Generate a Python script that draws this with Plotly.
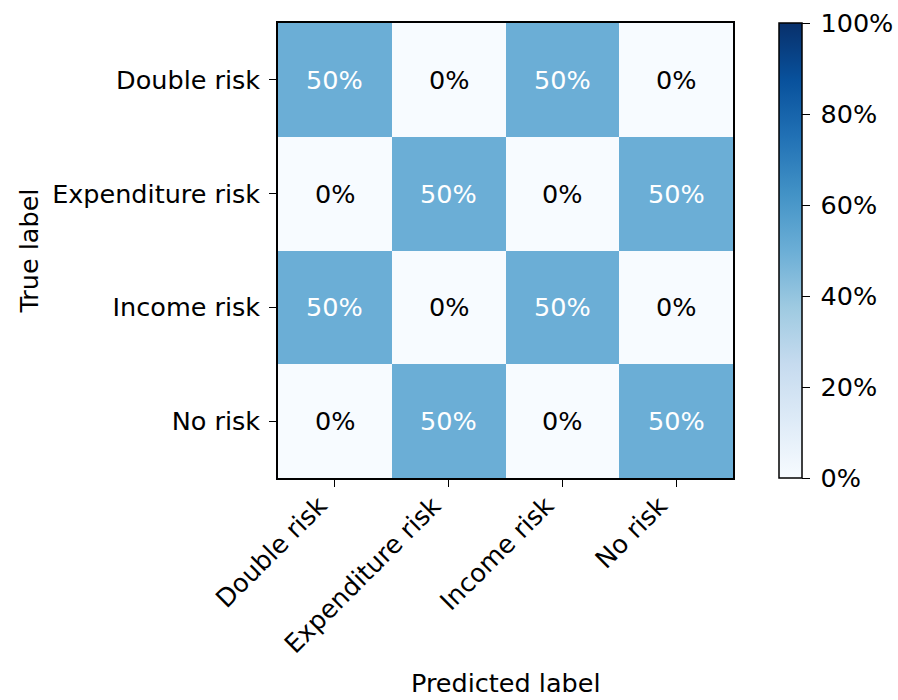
import plotly.graph_objects as go

# Confusion matrix (row-normalised), rows = true label, columns = predicted label
labels = ["Double risk", "Expenditure risk", "Income risk", "No risk"]
rates = [
    [0.5, 0.0, 0.5, 0.0],
    [0.0, 0.5, 0.0, 0.5],
    [0.5, 0.0, 0.5, 0.0],
    [0.0, 0.5, 0.0, 0.5],
]
cbar_ticks = [0.0, 0.2, 0.4, 0.6, 0.8, 1.0]
cbar_labels = ["0%", "20%", "40%", "60%", "80%", "100%"]

# Sequential blue palette (ColorBrewer "Blues", 9 classes)
blues = ["#f7fbff", "#deebf7", "#c6dbef", "#9ecae1", "#6baed6",
         "#4292c6", "#2171b5", "#08519c", "#08306b"]
colorscale = [[i / (len(blues) - 1), c] for i, c in enumerate(blues)]

FONT = "DejaVu Sans"
FS = 25.5
W, H = 898, 700
L, R, T, B = 278, 165, 23, 222
plot_w = W - L - R
plot_h = H - T - B

fig = go.Figure(go.Heatmap(
    z=rates, x=labels, y=labels,
    zmin=0, zmax=1, colorscale=colorscale,
    hoverinfo="skip",
    colorbar=dict(
        x=(779 - L) / plot_w, xanchor="left", xpad=0,
        y=0.5, yanchor="middle", len=1, lenmode="fraction",
        thickness=23, thicknessmode="pixels",
        outlinecolor="black", outlinewidth=1.5,
        tickvals=cbar_ticks, ticktext=["\u2009" + t for t in cbar_labels],
        ticks="outside", ticklen=8, tickwidth=1.3, tickcolor="black",
        tickfont=dict(family=FONT, size=FS, color="black"),
        ypad=0,
    ),
))

# Cell labels
thresh = max(max(r) for r in rates) / 2
for i, row in enumerate(rates):
    for j, v in enumerate(row):
        fig.add_annotation(
            x=labels[j], y=labels[i], text=f"{v:.0%}", showarrow=False,
            font=dict(family=FONT, size=FS, color="white" if v >= thresh else "black"),
        )

# Rotated x tick labels, right/top aligned under each tick
for lab in labels:
    fig.add_annotation(
        x=lab, xref="x", y=(478 - 489) / plot_h, yref="paper",
        text=lab, textangle=-45, xanchor="right", yanchor="top",
        xshift=-1, showarrow=False, borderpad=0,
        font=dict(family=FONT, size=FS, color="black"),
    )

n = len(labels)
axis_common = dict(
    showline=True, linecolor="black", linewidth=1.5, mirror=True,
    ticks="outside", ticklen=7, tickwidth=1.3, tickcolor="black",
    tickfont=dict(family=FONT, size=FS, color="black"),
    showgrid=False, zeroline=False,
)
fig.update_xaxes(**axis_common, showticklabels=False, range=[-0.5, n - 0.5])
fig.update_yaxes(**axis_common, range=[n - 0.5, -0.5], ticklabelstandoff=4)

fig.add_annotation(text="Predicted label", xref="paper", yref="paper",
                   x=0.5, y=-(683 - (H - B)) / plot_h, yanchor="middle",
                   showarrow=False, font=dict(family=FONT, size=FS, color="black"))
fig.add_annotation(text="True label", xref="paper", yref="paper",
                   x=-(L - 28) / plot_w, xanchor="center", y=0.5, textangle=-90,
                   showarrow=False, font=dict(family=FONT, size=FS, color="black"))

fig.update_layout(
    width=W, height=H,
    margin=dict(l=L, r=R, t=T, b=B, autoexpand=False),
    paper_bgcolor="white", plot_bgcolor="white",
    font=dict(family=FONT, size=FS, color="black"),
)

fig.write_html("out.html")
